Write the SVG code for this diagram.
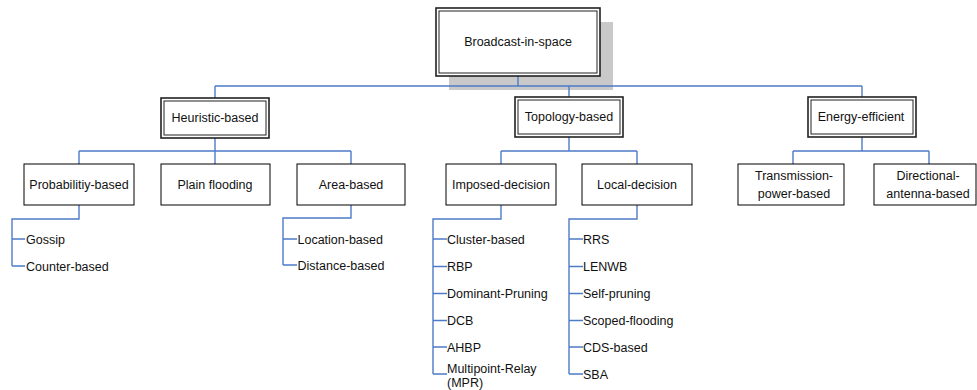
<svg xmlns="http://www.w3.org/2000/svg" width="977" height="390" viewBox="0 0 977 390">
  <style>
    text { font-family: "Liberation Sans", Arial, sans-serif; font-size: 12.5px; fill: #111; }
    .mid { text-anchor: middle; }
    .box { fill: #fff; stroke: #000; stroke-width: 1; }
    .outer { fill: #fff; stroke: #222; stroke-width: 1.6; }
    .inner { fill: none; stroke: #222; stroke-width: 1; }
    .shadow { fill: #c9c9c9; }
    .conn { fill: none; stroke: #4d7bc8; stroke-width: 1.4; }
  </style>

  <!-- root drop shadow -->
  <rect class="shadow" x="449" y="22" width="164" height="68"/>

  <!-- tree connectors -->
  <g id="connectors">
    <path class="conn" d="M518,76 V86 M215,86 H862 M215,86 V98 M569,86 V97 M862,86 V97"/>
    <path class="conn" d="M215,138 V151 M79,151 H351 M79,151 V164 M215,151 V164 M351,151 V164"/>
    <path class="conn" d="M569,137 V151 M501,151 H637 M501,151 V164 M637,151 V164"/>
    <path class="conn" d="M862,137 V151 M793,151 H929 M793,151 V164 M929,151 V164"/>
    <path class="conn" d="M79,205 V219 H12 V266 M12,239 H25 M12,266 H25"/>
    <path class="conn" d="M351,205 V218 H283 V265 M283,239 H297 M283,265 H297"/>
    <path class="conn" d="M501,205 V219 H433 V374 M433,239 H447 M433,266.5 H447 M433,293.5 H447 M433,320.5 H447 M433,347 H447 M433,374 H447"/>
    <path class="conn" d="M637,205 V219 H569 V374 M569,239 H583 M569,266.5 H583 M569,293.5 H583 M569,320.5 H583 M569,347 H583 M569,374 H583"/>
  </g>

  <g id="root">
    <rect class="outer" x="436" y="8" width="164" height="68"/>
    <rect class="inner" x="439" y="11" width="158" height="62"/>
    <text class="mid" x="518" y="46">Broadcast-in-space</text>
  </g>

  <g id="heuristic">
    <rect class="outer" x="161" y="98" width="108" height="40"/>
    <rect class="inner" x="164" y="101" width="102" height="34"/>
    <text class="mid" x="215" y="122">Heuristic-based</text>
  </g>
  <g id="topology">
    <rect class="outer" x="515" y="97" width="108" height="40"/>
    <rect class="inner" x="518" y="100" width="102" height="34"/>
    <text class="mid" x="569" y="121">Topology-based</text>
  </g>
  <g id="energy">
    <rect class="outer" x="808" y="97" width="108" height="40"/>
    <rect class="inner" x="811" y="100" width="102" height="34"/>
    <text class="mid" x="861" y="121">Energy-efficient</text>
  </g>

  <g id="probability">
    <rect class="box" x="24" y="164" width="110" height="41"/>
    <text class="mid" x="79" y="189">Probabilitiy-based</text>
  </g>
  <g id="plain-flooding">
    <rect class="box" x="161" y="164" width="109" height="41"/>
    <text class="mid" x="215" y="189">Plain flooding</text>
  </g>
  <g id="area">
    <rect class="box" x="297" y="164" width="108" height="41"/>
    <text class="mid" x="351" y="189">Area-based</text>
  </g>
  <g id="imposed">
    <rect class="box" x="446" y="164" width="110" height="41"/>
    <text class="mid" x="501" y="189">Imposed-decision</text>
  </g>
  <g id="local">
    <rect class="box" x="582" y="164" width="110" height="41"/>
    <text class="mid" x="637" y="189">Local-decision</text>
  </g>
  <g id="transmission">
    <rect class="box" x="738" y="164" width="106" height="41"/>
    <text class="mid" x="794" y="179.5">Transmission-</text>
    <text class="mid" x="794" y="197.5">power-based</text>
  </g>
  <g id="directional">
    <rect class="box" x="874" y="164" width="102" height="41"/>
    <text class="mid" x="928" y="179.5">Directional-</text>
    <text class="mid" x="928" y="197.5">antenna-based</text>
  </g>

  <g id="probability-leaves">
    <text x="26" y="243.5">Gossip</text>
    <text x="26" y="270.5">Counter-based</text>
  </g>
  <g id="area-leaves">
    <text x="297.5" y="243.5">Location-based</text>
    <text x="297.5" y="269.5">Distance-based</text>
  </g>
  <g id="imposed-leaves">
    <text x="447" y="243.5">Cluster-based</text>
    <text x="447" y="271">RBP</text>
    <text x="447" y="298">Dominant-Pruning</text>
    <text x="447" y="325">DCB</text>
    <text x="447" y="351.5">AHBP</text>
    <text x="447" y="372.5">Multipoint-Relay</text>
    <text x="447" y="387">(MPR)</text>
  </g>
  <g id="local-leaves">
    <text x="583" y="243.5">RRS</text>
    <text x="583" y="271">LENWB</text>
    <text x="583" y="298">Self-pruning</text>
    <text x="583" y="325">Scoped-flooding</text>
    <text x="583" y="351.5">CDS-based</text>
    <text x="583" y="378.5">SBA</text>
  </g>
</svg>
